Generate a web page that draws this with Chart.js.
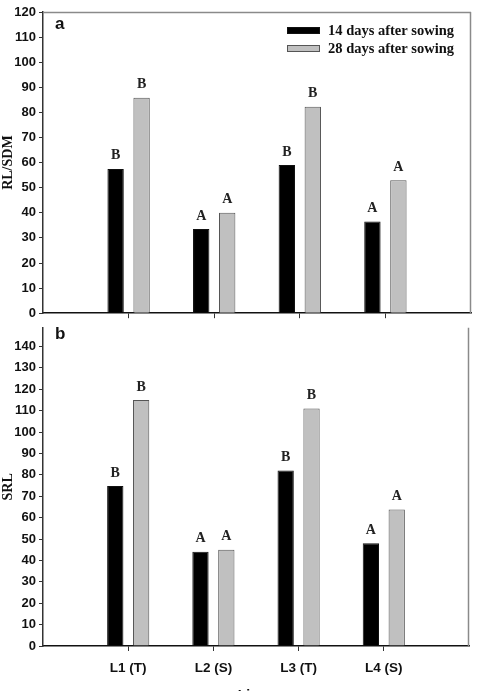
<!DOCTYPE html>
<html>
<head>
<meta charset="utf-8">
<script src="https://cdn.jsdelivr.net/npm/chart.js@4"></script>
<style>
  html, body { margin: 0; padding: 0; background: #fff; }
  #wrapA { position: absolute; left: 0; top: 0; width: 478px; height: 324px; }
  #wrapB { position: absolute; left: 0; top: 317px; width: 478px; height: 374px; }
</style>
</head>
<body>
<div id="wrapB"><canvas id="chartB"></canvas></div>
<div id="wrapA"><canvas id="chartA"></canvas></div>
<script>
// empty slots at both ends so the four lines sit at 1..4 on a 0..5 axis
const lines = ["", "L1 (T)", "L2 (S)", "L3 (T)", "L4 (S)", ""];
const seriesNames = ["14 days after sowing", "28 days after sowing"];

const rlsdm14 = [null, 57.5, 33.5, 59, 36.5, null];
const rlsdm28 = [null, 85.8, 40, 82.3, 53, null];
const srl14 = [null, 74.8, 44, 82, 48, null];
const srl28 = [null, 115, 45, 111, 63.8, null];

const letters14 = ["", "B", "A", "B", "A", ""];
const letters28 = ["", "B", "A", "B", "A", ""];

const darkFill = "#000000";
const greyFill = "#c0c0c0";
const sans = "'Liberation Sans', Arial, sans-serif";
const serif = "'Liberation Serif', 'DejaVu Serif', serif";

const letterPlugin = {
    id: "letters",
    afterDatasetsDraw(chart) {
        const ctx = chart.ctx;
        ctx.save();
        ctx.font = "bold 14px " + serif;
        ctx.fillStyle = "#222";
        ctx.textAlign = "center";
        ctx.textBaseline = "bottom";
        chart.data.datasets.forEach((ds, di) => {
            const meta = chart.getDatasetMeta(di);
            meta.data.forEach((bar, i) => {
                if (ds.data[i] == null) return;
                ctx.fillText(ds.letters[i], bar.x, bar.y - 6);
            });
        });
        ctx.restore();
    }
};

const framePlugin = {
    id: "frame",
    afterDraw(chart, args, opts) {
        const a = chart.chartArea;
        const ctx = chart.ctx;
        ctx.save();
        ctx.strokeStyle = "#8a8a8a";
        ctx.lineWidth = 1.5;
        ctx.beginPath();
        if (opts.top) {
            ctx.moveTo(a.left, a.top + 0.5);
            ctx.lineTo(a.right, a.top + 0.5);
        }
        ctx.moveTo(a.right - 0.5, a.top);
        ctx.lineTo(a.right - 0.5, a.bottom);
        ctx.stroke();

        // panel letter
        ctx.fillStyle = "#111";
        ctx.font = "900 17px " + sans;
        ctx.textAlign = "left";
        ctx.textBaseline = "alphabetic";
        ctx.fillText(opts.label, 55, opts.labelY);

        if (opts.legend) {
            ctx.font = "bold 14.5px " + serif;
            ctx.textBaseline = "middle";
            chart.data.datasets.forEach((ds, i) => {
                const y = 27 + i * 18;
                ctx.fillStyle = ds.backgroundColor;
                ctx.fillRect(287, y, 33, 7);
                ctx.strokeStyle = ds.borderColor;
                ctx.lineWidth = 1;
                ctx.strokeRect(287.5, y + 0.5, 32, 6);
                ctx.fillStyle = "#111";
                ctx.fillText(ds.label, 328, y + 4);
            });
        }

        if (opts.xTitle) {
            ctx.fillStyle = "#111";
            ctx.font = "bold 14px " + sans;
            ctx.textAlign = "center";
            ctx.textBaseline = "top";
            ctx.fillText(opts.xTitle, (a.left + a.right) / 2, opts.xTitleY);
        }
        ctx.restore();
    }
};

function tickColor(c) {
    return (c.index === 0 || c.index === 5) ? "rgba(0,0,0,0)" : "#333";
}

function makePanel(canvasId, yTitle, data14, data28, yMax, opts) {
    const ctx = document.getElementById(canvasId).getContext("2d");
    return new Chart(ctx, {
        type: "bar",
        data: {
            labels: lines,
            datasets: [{
                label: seriesNames[0],
                data: data14,
                letters: letters14,
                backgroundColor: darkFill,
                borderColor: "#111",
                borderWidth: 1,
                categoryPercentage: 0.607,
                barPercentage: 0.63
            }, {
                label: seriesNames[1],
                data: data28,
                letters: letters28,
                backgroundColor: greyFill,
                borderColor: "#555",
                borderWidth: 1,
                categoryPercentage: 0.607,
                barPercentage: 0.63
            }]
        },
        options: {
            responsive: true,
            maintainAspectRatio: false,
            animation: false,
            layout: { padding: { top: opts.padTop, right: 7, left: 0, bottom: 0 } },
            plugins: {
                legend: { display: false },
                tooltip: { enabled: false },
                frame: opts.frame
            },
            scales: {
                x: {
                    type: "category",
                    offset: false,
                    grid: { offset: false, drawOnChartArea: false, drawTicks: true, tickLength: 5, color: tickColor },
                    border: { color: "#111", width: 1.5 },
                    ticks: {
                        display: opts.showX,
                        autoSkip: false,
                        maxRotation: 0,
                        padding: 9,
                        color: "#111",
                        font: { family: sans, size: 13.5, weight: "bold" }
                    },
                    afterFit: (scale) => { scale.height = opts.xHeight; }
                },
                y: {
                    min: 0,
                    max: yMax,
                    grid: { drawOnChartArea: false, drawTicks: true, tickLength: 4, color: "#333" },
                    border: { color: "#333", width: 1.5 },
                    ticks: {
                        stepSize: 10,
                        includeBounds: false,
                        padding: 3,
                        color: "#111",
                        font: { family: sans, size: 13, weight: "bold" }
                    },
                    title: {
                        display: true,
                        text: yTitle,
                        color: "#111",
                        padding: { top: 0, bottom: 0 },
                        font: { family: serif, size: 14, weight: "bold" }
                    },
                    afterFit: (scale) => { scale.width = 43; }
                }
            }
        },
        plugins: [letterPlugin, framePlugin]
    });
}

makePanel("chartA", "RL/SDM", rlsdm14, rlsdm28, 120, {
    padTop: 12, xHeight: 7, showX: false,
    frame: { top: true, label: "a", labelY: 29, legend: true }
});

makePanel("chartB", "SRL", srl14, srl28, 148.7, {
    padTop: 5, xHeight: 45, showX: true,
    frame: { top: false, label: "b", labelY: 22, legend: false, xTitle: "Lines", xTitleY: 372 }
});
</script>
</body>
</html>
